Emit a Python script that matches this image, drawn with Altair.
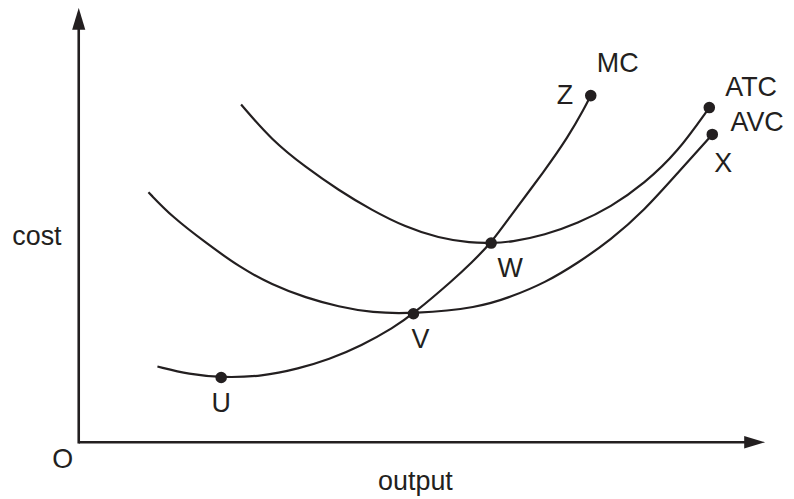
import altair as alt
import pandas as pd

# ---- values (x = output, y = cost, arbitrary units) ----
mc_x = [79, 111, 143, 184, 221, 251, 284, 316, 336, 376, 394, 414, 434, 468, 491, 508, 514]
mc_y = [76, 68, 65, 66, 74, 83, 97, 115, 129, 163, 180, 200, 228, 273, 306, 336, 348]

atc_x = [163, 194, 228, 261, 294, 328, 361, 394, 414, 434, 468, 501, 534, 568, 601, 633]
atc_y = [339, 303, 276, 253, 233, 216, 205, 200, 200, 201, 208, 220, 236, 260, 291, 336]

avc_x = [70, 94, 128, 161, 194, 228, 261, 294, 336, 401, 434, 468, 501, 534, 568, 601, 636]
avc_y = [251, 226, 200, 176, 158, 145, 136, 130, 129, 135, 146, 160, 180, 203, 233, 270, 309]

dot_x = [143, 336, 414, 514, 633, 636]
dot_y = [65, 129, 200, 348, 336, 309]

label_text = ["MC", "Z", "ATC", "AVC", "X", "W", "V", "U", "cost", "O", "output"]
label_x = [541, 488, 675, 681, 647, 433, 343, 143, -42, -16, 338]
label_y = [372, 340, 348, 312, 271, 166, 95, 30, 198, -26, -48]

axis_end_x = 670
axis_end_y = 415
arrow_x = [0, 678.5]
arrow_y = [425, 0]
arrow_dir = ["up", "right"]

INK = "#231f20"
FONT = "Liberation Sans"

curves = pd.concat([
    pd.DataFrame({"x": mc_x, "y": mc_y, "curve": "MC"}),
    pd.DataFrame({"x": atc_x, "y": atc_y, "curve": "ATC"}),
    pd.DataFrame({"x": avc_x, "y": avc_y, "curve": "AVC"}),
])
dots = pd.DataFrame({"x": dot_x, "y": dot_y})
labels = pd.DataFrame({"x": label_x, "y": label_y, "t": label_text})
axes = pd.DataFrame({"x": [0, 0], "y": [-1.3, 0], "x2": [0, axis_end_x], "y2": [axis_end_y, 0]})
arrows = pd.DataFrame({"x": arrow_x, "y": arrow_y, "d": arrow_dir})

xs = alt.Scale(domain=[0, 690], nice=False, zero=False)
ys = alt.Scale(domain=[0, 433], nice=False, zero=False)
X = alt.X("x:Q", scale=xs, axis=None)
Y = alt.Y("y:Q", scale=ys, axis=None)

axis_layer = alt.Chart(axes).mark_rule(color=INK, strokeWidth=2.6).encode(
    x=X, y=Y, x2="x2:Q", y2="y2:Q"
)

up = alt.Chart(arrows[arrows.d == "up"]).mark_point(
    shape="M0,-1L0.6,1L-0.6,1Z", filled=True, color=INK, opacity=1, size=484
).encode(x=X, y=Y)
right = alt.Chart(arrows[arrows.d == "right"]).mark_point(
    shape="M1,0L-1,0.6L-1,-0.6Z", filled=True, color=INK, opacity=1, size=441
).encode(x=X, y=Y)

lines = alt.Chart(curves).mark_line(
    interpolate="basis", color=INK, strokeWidth=2.2
).encode(x=X, y=Y, detail="curve:N", order="x:Q")

pts = alt.Chart(dots).mark_circle(color=INK, opacity=1, size=135).encode(x=X, y=Y)

txt = alt.Chart(labels).mark_text(
    font=FONT, fontSize=27, color=INK, align="center", baseline="alphabetic"
).encode(x=X, y=Y, text="t:N")

chart = alt.layer(axis_layer, lines, pts, up, right, txt).properties(
    width=690,
    height=433,
    autosize=alt.AutoSizeParams(type="none"),
    padding={"left": 71, "top": 2, "right": 20, "bottom": 53},
).configure_view(stroke=None)

chart.save("out.html", embed_options={"renderer": "svg", "actions": False})
